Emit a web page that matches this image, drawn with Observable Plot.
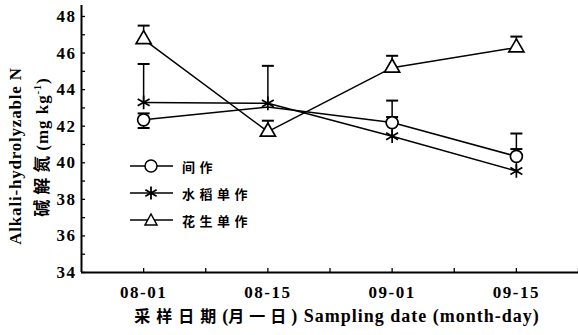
<!DOCTYPE html>
<html>
<head>
<meta charset="utf-8">
<script src="https://cdn.jsdelivr.net/npm/d3@7"></script>
<script src="https://cdn.jsdelivr.net/npm/@observablehq/plot@0.6"></script>
<style>
  html, body { margin: 0; padding: 0; background: #fff; }
  #wrap { position: relative; width: 578px; height: 335px; overflow: hidden; }
  #wrap > svg { position: absolute; left: 0; top: 0; }
  .serif { font-family: "Liberation Serif", "DejaVu Serif", serif; font-weight: bold; }
  .cjk { font-family: "Noto Sans CJK SC", sans-serif; font-weight: 700; }
  .abs { position: absolute; white-space: nowrap; color: #000; }
  .legrow { position: absolute; left: 130px; height: 20px; display: flex; align-items: center; }
  .legrow svg { display: block; }
  .legrow span { font-family: "Noto Sans CJK SC", sans-serif; font-weight: 700; font-size: 13px; letter-spacing: 4.5px; margin-left: 9px; }
</style>
</head>
<body>
<div id="wrap"></div>
<script>
// ---- data ----
const dates = ["08-01", "08-15", "09-01", "09-15"];
const seriesNames = ["间作", "水稻单作", "花生单作"];
const intercrop   = [42.35, 43.05, 42.2, 40.35];
const intercropHi = [42.7, null, 43.4, 41.6];
const intercropLo = [41.9, null, null, null];
const rice        = [43.3, 43.25, 41.45, 39.55];
const riceHi      = [45.4, 45.3, 42.5, 40.75];
const riceLo      = [null, null, null, null];
const peanut      = [46.75, 41.7, 45.2, 46.3];
const peanutHi    = [47.5, 42.3, 45.85, 46.9];
const peanutLo    = [null, null, null, null];
const yTicksMajor = [34, 36, 38, 40, 42, 44, 46, 48];
const yTicksMinor = d3.range(34, 49, 1);
// marker hidden under another series' symbol in the original figure
const hiddenMarkers = [{s: "间作", i: 1}];

const series = [
  {name: seriesNames[0], v: intercrop, hi: intercropHi, lo: intercropLo},
  {name: seriesNames[1], v: rice, hi: riceHi, lo: riceLo},
  {name: seriesNames[2], v: peanut, hi: peanutHi, lo: peanutLo}
];
const rows = series.flatMap(s => dates.map((d, i) => ({i, s: s.name, v: s.v[i], hi: s.hi[i], lo: s.lo[i]})));
const shown = rows.filter(d => !hiddenMarkers.some(h => h.s === d.s && h.i === d.i));
const xTickMinor = d3.range(0, 3.51, 0.5);
const symbolSize = {"间作": 6, "水稻单作": 6.5, "花生单作": 5.6};

const cap = {draw(ctx, size) { const w = Math.sqrt(size / Math.PI); ctx.moveTo(-w, 0); ctx.lineTo(w, 0); }};

const chart = Plot.plot({
  width: 578, height: 335,
  marginLeft: 81, marginRight: 0, marginTop: 5, marginBottom: 63,
  style: {fontFamily: "'Liberation Serif', serif", fontWeight: "bold", fontSize: "17px", color: "#000", background: "transparent", letterSpacing: "1.5px"},
  x: {domain: [-0.5, 3.5]},
  y: {domain: [34, 48.6]},
  r: {type: "identity"},
  symbol: {domain: seriesNames, range: ["circle", "asterisk", "triangle"]},
  marks: [
    Plot.axisY({ticks: yTicksMinor, tickSize: -4, tickFormat: () => "", label: null, strokeWidth: 1.3}),
    Plot.axisY({ticks: yTicksMajor, tickSize: 0, tickPadding: 5, label: null, fontSize: 17}),
    Plot.axisX({ticks: xTickMinor, tickSize: -4, tickFormat: () => "", label: null, strokeWidth: 1.3}),
    Plot.axisX({ticks: [0, 1, 2, 3], tickSize: 0, tickPadding: 13, tickFormat: i => dates[i], label: null, fontSize: 17}),
    Plot.ruleX([-0.5], {stroke: "#000", strokeWidth: 2}),
    Plot.ruleY([34], {stroke: "#000", strokeWidth: 2}),
    Plot.line(rows, {x: "i", y: "v", z: "s", stroke: "#000", strokeWidth: 1.5}),
    Plot.ruleX(rows.filter(d => d.hi != null), {x: "i", y1: "v", y2: "hi", stroke: "#000", strokeWidth: 1.5}),
    Plot.ruleX(rows.filter(d => d.lo != null), {x: "i", y1: "v", y2: "lo", stroke: "#000", strokeWidth: 1.5}),
    Plot.dot(rows.filter(d => d.hi != null), {x: "i", y: "hi", symbol: () => cap, r: 6, stroke: "#000", strokeWidth: 2}),
    Plot.dot(rows.filter(d => d.lo != null), {x: "i", y: "lo", symbol: () => cap, r: 6, stroke: "#000", strokeWidth: 2}),
    Plot.dot(shown, {x: "i", y: "v", symbol: "s", r: d => symbolSize[d.s], fill: "white", stroke: "#000", strokeWidth: 1.7})
  ]
});
const wrap = document.getElementById("wrap");
wrap.appendChild(chart);

// axis titles
const yl1 = document.createElement("div");
yl1.className = "abs serif";
yl1.style.cssText = "left:16px;top:156px;font-size:17px;letter-spacing:0.8px;transform:translate(-50%,-50%) rotate(-90deg);";
yl1.textContent = "Alkali-hydrolyzable N";
wrap.appendChild(yl1);

const yl2 = document.createElement("div");
yl2.className = "abs";
yl2.style.cssText = "left:40px;top:147px;font-size:17px;transform:translate(-50%,-50%) rotate(-90deg);";
yl2.innerHTML = '<span class="cjk" style="letter-spacing:5px">碱解氮</span><span class="serif" style="letter-spacing:1px">(mg kg<sup style="font-size:10px">-1</sup>)</span>';
wrap.appendChild(yl2);

const xl = document.createElement("div");
xl.className = "abs";
xl.style.cssText = "left:337px;top:315px;font-size:18px;transform:translate(-50%,-50%);";
xl.innerHTML = '<span class="cjk" style="font-size:16px;letter-spacing:6px">采样日期</span><span class="serif">(</span><span class="cjk" style="font-size:16px;letter-spacing:5px">月一日</span><span class="serif" style="letter-spacing:1px">) Sampling date (month-day)</span>';
wrap.appendChild(xl);

// legend
const legTops = [156, 183, 210];
const symSvg = [
  '<circle cx="21" cy="10" r="6" fill="white" stroke="black" stroke-width="1.5"/>',
  '<path d="M21,3.5V16.5M15.4,6.75L26.6,13.25M15.4,13.25L26.6,6.75" stroke="black" stroke-width="1.8"/>',
  '<path d="M21,4L27,15L15,15Z" fill="white" stroke="black" stroke-width="1.5"/>'
];
seriesNames.forEach((n, k) => {
  const row = document.createElement("div");
  row.className = "legrow";
  row.style.top = legTops[k] + "px";
  row.innerHTML = '<svg width="43" height="20"><line x1="0" y1="10" x2="43" y2="10" stroke="black" stroke-width="1.5"/>' + symSvg[k] + '</svg><span>' + n + '</span>';
  wrap.appendChild(row);
});
</script>
</body>
</html>
